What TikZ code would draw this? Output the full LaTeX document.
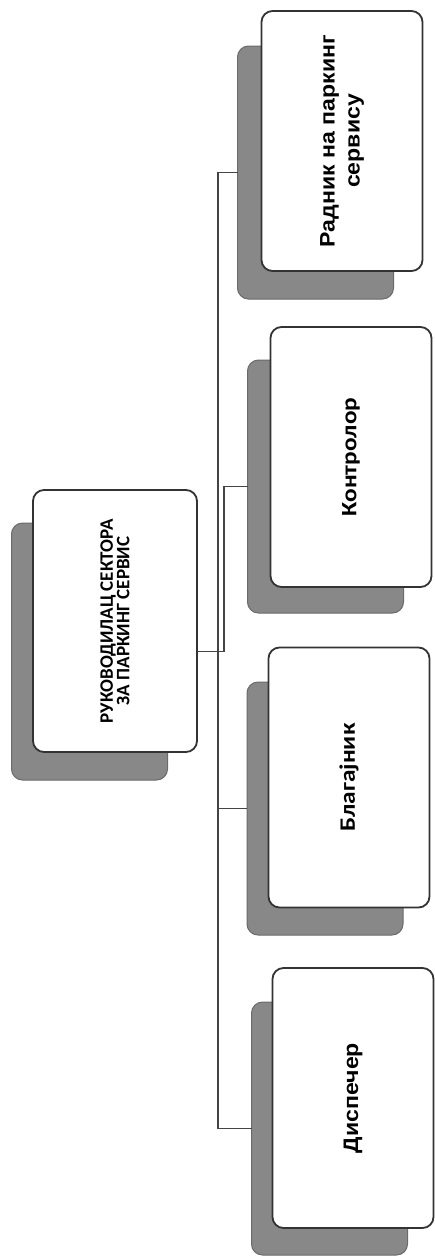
\documentclass[tikz,border=0pt]{standalone}
\usepackage{fontspec}
\newfontfamily\fa{Liberation Sans}[FakeStretch=1.1]
\newfontfamily\fc{Carlito}[FakeStretch=1.15]
\newfontfamily\fcc{Carlito}
\definecolor{shd}{HTML}{888888}
\definecolor{shdb}{HTML}{6A6A6A}
\definecolor{bord}{HTML}{333333}
\definecolor{lc}{HTML}{444444}
\begin{document}
\begin{tikzpicture}[x=1pt,y=-1pt,
  wbox/.style={draw=bord, fill=white, line width=1.8pt, rounded corners=11pt, rotate=90,
    minimum width=260pt, minimum height=161pt, inner sep=0pt, outer sep=0pt, align=center},
  sbox/.style={draw=shdb, fill=shd, line width=1pt, rounded corners=11pt, rotate=90,
    minimum width=253pt, minimum height=156pt, inner sep=0pt, outer sep=0pt},
  fA/.style={font=\fa\bfseries\fontsize{21}{25}\selectfont},
  fC/.style={font=\fc\bfseries\fontsize{22}{26}\selectfont},
  fM/.style={font=\fcc\bfseries\fontsize{19}{16.5}\selectfont},
  conn/.style={draw=lc, line width=1.6pt}]
\useasboundingbox (0,0) rectangle (435,1256);
% shadows
\node[sbox] (sR) at (315.5,172.5) {};
\node[sbox] (sK) at (325.5,486.5) {};
\node[sbox] (sB) at (325,808.5) {};
\node[sbox] (sD) at (329.5,1128.5) {};
\node[sbox, minimum width=257pt] (sC) at (89.5,651.5) {};
% white boxes
\node[wbox, fA] (R) at (342,141) {Радник на паркинг\\сервису};
\node[wbox, fC] (K) at (351,457) {Контролор};
\node[wbox, fC] (B) at (349,777.5) {Благајник};
\node[wbox, fA] (D) at (353,1098) {Диспечер};
\node[wbox, fM, minimum width=262pt, minimum height=164pt] (C) at (115,621) {РУКОВОДИЛАЦ СЕКТОРА\\ЗА ПАРКИНГ СЕРВИС};
% connectors
\coordinate (tt) at (218,0);
\coordinate (kt) at (224,0);
\draw[conn] (sR.north) -- (sR.north -| tt) -- (sD.north -| tt) -- (sD.north);
\draw[conn] (sB.north -| tt) -- (sB.north);
\draw[conn] (sC.center -| C.south) -- (sC.center -| kt) -- (sK.north -| kt) -- (sK.north);
\end{tikzpicture}
\end{document}
